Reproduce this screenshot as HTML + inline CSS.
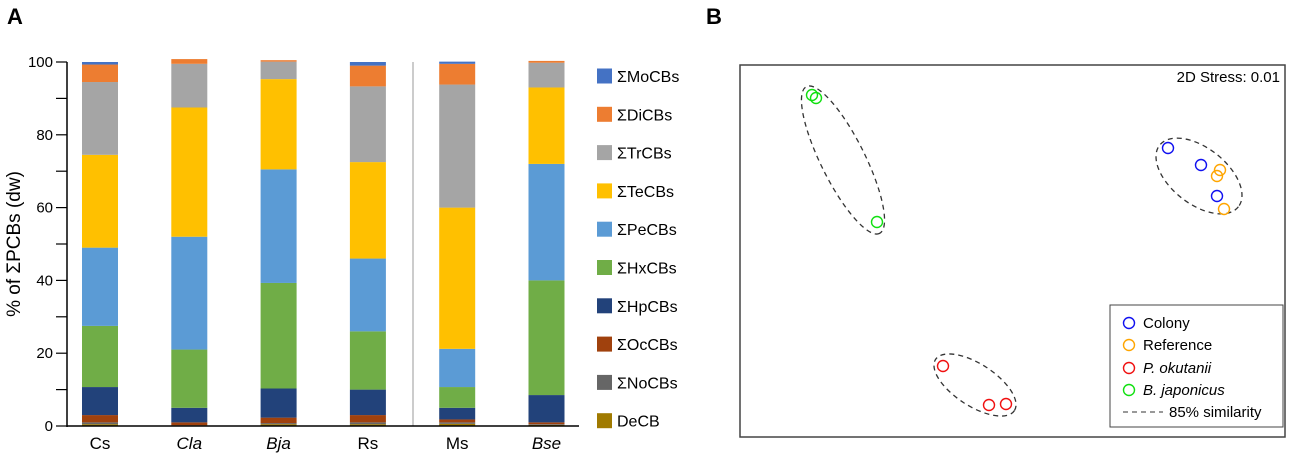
<!DOCTYPE html>
<html><head><meta charset="utf-8"><style>
body{margin:0;background:#fff;font-family:"Liberation Sans",Arial,sans-serif;}
svg text{font-family:"Liberation Sans",Arial,sans-serif;}
</style></head><body>
<svg id="s" width="1299" height="458" viewBox="0 0 1299 458" xmlns="http://www.w3.org/2000/svg">
<text x="7" y="24" font-size="22" font-weight="bold">A</text>
<text x="706" y="24" font-size="22" font-weight="bold">B</text>
<text transform="translate(20,244) rotate(-90)" text-anchor="middle" font-size="19">% of ΣPCBs (dw)</text>
<g id="barchart"></g>
<g id="legendA"></g>
<rect x="740" y="65" width="545" height="372" fill="none" stroke="#444" stroke-width="1.5"/>
<text x="1280" y="82" text-anchor="end" font-size="15">2D Stress: 0.01</text>
<g id="nmds"></g>
<g>
<rect x="1110" y="305" width="173" height="122" fill="#fff" stroke="#444" stroke-width="1"/>
<circle cx="1129" cy="323" r="5.5" fill="none" stroke="#1010f0" stroke-width="1.4"/>
<text x="1143" y="328" font-size="15">Colony</text>
<circle cx="1129" cy="345" r="5.5" fill="none" stroke="#ffa500" stroke-width="1.4"/>
<text x="1143" y="350" font-size="15">Reference</text>
<circle cx="1129" cy="368" r="5.5" fill="none" stroke="#f01010" stroke-width="1.4"/>
<text x="1143" y="373" font-size="15" font-style="italic">P. okutanii</text>
<circle cx="1129" cy="390" r="5.5" fill="none" stroke="#10e010" stroke-width="1.4"/>
<text x="1143" y="395" font-size="15" font-style="italic">B. japonicus</text>
<line x1="1123" y1="412" x2="1163" y2="412" stroke="#333" stroke-dasharray="5,4"/>
<text x="1169" y="417" font-size="15">85% similarity</text>
</g>
</svg>
<script>
const NS="http://www.w3.org/2000/svg";
const categories=["Cs","Cla","Bja","Rs","Ms","Bse"];
const italicCats=[false,true,true,false,false,true];
const groups=["DeCB","ΣNoCBs","ΣOcCBs","ΣHpCBs","ΣHxCBs","ΣPeCBs","ΣTeCBs","ΣTrCBs","ΣDiCBs","ΣMoCBs"];
const colors=["#a07a00","#666666","#a0410d","#22427a","#70ad47","#5b9bd5","#ffc000","#a5a5a5","#ed7d31","#4472c4"];
const DeCB=[0.5,0.2,0.5,0.5,0.6,0.3];
const NoCB=[0.5,0,0.3,0.5,0.4,0.2];
const OcCB=[2,0.8,1.5,2,0.8,0.5];
const HpCB=[7.7,4,8,7,3.2,7.5];
const HxCB=[16.8,16,29,16,5.7,31.5];
const PeCB=[21.5,31,31.2,20,10.5,32];
const TeCB=[25.5,35.5,24.8,26.5,38.8,21];
const TrCB=[20,12,4.8,20.8,33.8,6.8];
const DiCB=[4.8,1.3,0.4,5.7,5.7,0.5];
const MoCB=[0.7,0,0,1,0.6,0];
const yTicks=[0,20,40,60,80,100];
const series=[DeCB,NoCB,OcCB,HpCB,HxCB,PeCB,TeCB,TrCB,DiCB,MoCB];
const y0=426,y1=62,ax=67;
const yS=v=>y0-(v/100)*(y0-y1);
const xS=i=>100+i*89.3;
function mk(t,a,p){const e=document.createElementNS(NS,t);for(const k in a)e.setAttribute(k,a[k]);(p||document.getElementById('barchart')).appendChild(e);return e;}
mk('line',{x1:413,y1:62,x2:413,y2:426,stroke:'#aaa','stroke-width':1.2});
categories.forEach((c,i)=>{let cum=0;
 series.forEach((s,j)=>{const v=s[i];if(v<=0)return;
  const r=mk('rect',{x:xS(i)-18,y:yS(cum+v),width:36,height:yS(cum)-yS(cum+v),fill:colors[j]});
  
  
  cum+=v;});
 const t=mk('text',{x:xS(i),y:449,'text-anchor':'middle','font-size':17});
 if(italicCats[i])t.setAttribute('font-style','italic');
 t.textContent=c;
 
 
});
mk('line',{x1:ax,y1:y1,x2:ax,y2:y0+1,stroke:'#000','stroke-width':1.5});
mk('line',{x1:ax,y1:y0,x2:579,y2:y0,stroke:'#000','stroke-width':1.5});
for(let v=0;v<=100;v+=10){mk('line',{x1:ax-11,y1:yS(v),x2:ax,y2:yS(v),stroke:'#000','stroke-width':1.2});}
yTicks.forEach(v=>{const t=mk('text',{x:53,y:yS(v)+5,'text-anchor':'end','font-size':15});t.textContent=v;
 
 });
const lg=document.getElementById('legendA');
for(let j=9;j>=0;j--){const k=9-j;const yy=76+k*38.3;
 mk('rect',{x:597,y:yy-7.5,width:15,height:15,fill:colors[j]},lg);
 const t=mk('text',{x:617,y:yy+6,'font-size':16},lg);t.textContent=groups[j];
 
 }
const ptX=[1168,1201,1217, 1220,1217,1224, 943,989,1006, 812,816,877];
const ptY=[148,165,196, 170,176,209, 366,405,404, 95,98,222];
const ptGroup=[0,0,0,1,1,1,2,2,2,3,3,3];
const gColors=["#1010f0","#ffa500","#f01010","#10e010"];
const nm=document.getElementById('nmds');
[[843,160,82,22,63.5],[1199,176,50,28,38],[975,385,47,21,33]].forEach((e,i)=>{
 const el=mk('ellipse',{cx:0,cy:0,rx:e[2],ry:e[3],fill:'none',stroke:'#333','stroke-width':1.3,'stroke-dasharray':'5,4',transform:`translate(${e[0]},${e[1]}) rotate(${e[4]})`},nm);
 
 });
ptX.forEach((x,i)=>{const c=mk('circle',{cx:x,cy:ptY[i],r:5.5,fill:'none',stroke:gColors[ptGroup[i]],'stroke-width':1.4},nm);
 
 });
</script>
</body></html>
